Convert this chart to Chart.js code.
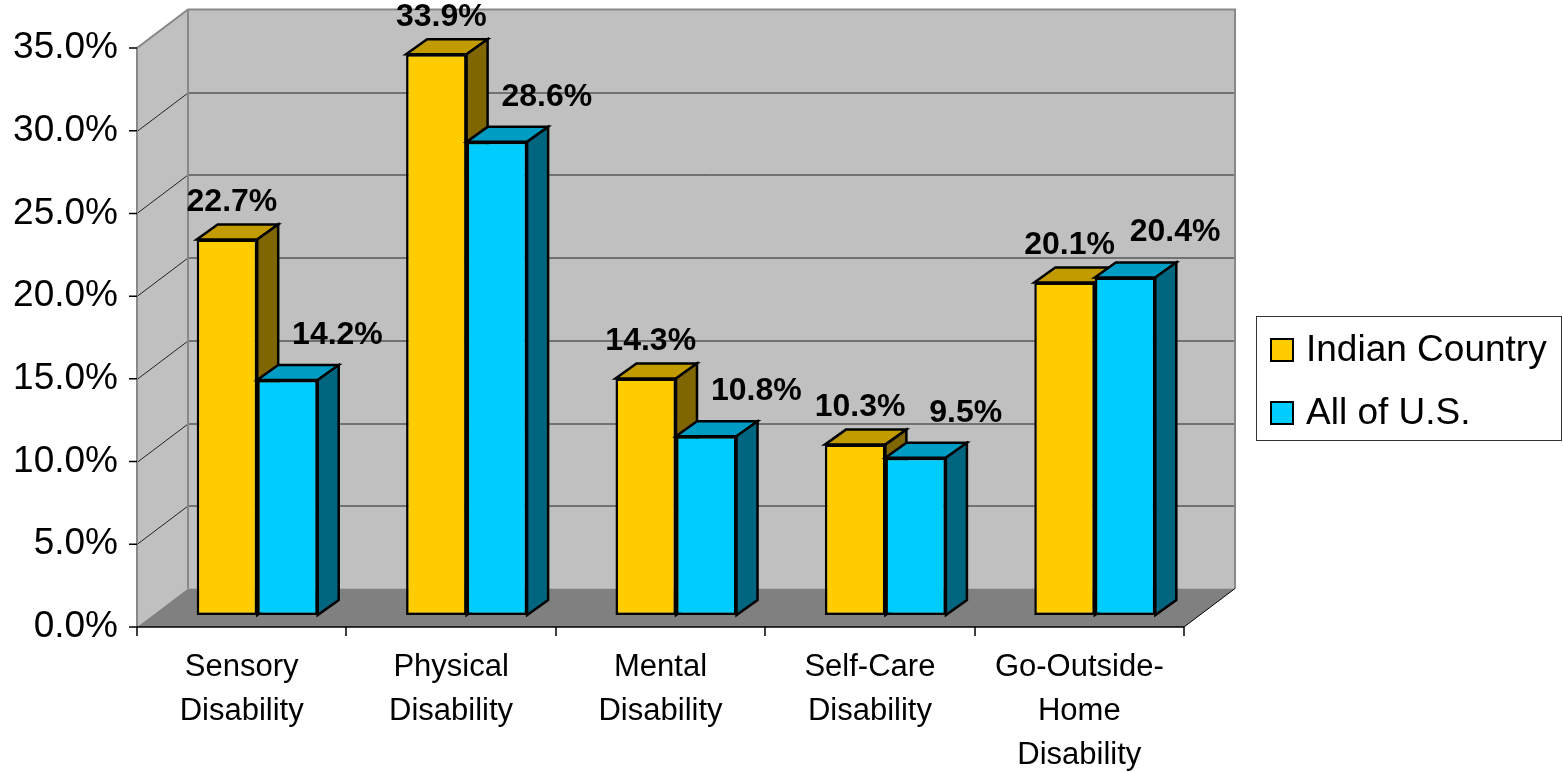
<!DOCTYPE html>
<html lang="en">
<head>
<meta charset="UTF-8">
<title>Disability Rates: Indian Country vs All of U.S.</title>
<script src="https://cdn.jsdelivr.net/npm/chart.js"></script>
<style>
    body { margin: 0; background: #fff; }
    #wrap { width: 1563px; height: 772px; }
</style>
</head>
<body>
<div id="wrap"><canvas id="disabilityChart" width="1563" height="772"></canvas></div>
<script>
    // ---- data ----
    const categories = [
        ['Sensory', 'Disability'],
        ['Physical', 'Disability'],
        ['Mental', 'Disability'],
        ['Self-Care', 'Disability'],
        ['Go-Outside-', 'Home', 'Disability']
    ];
    const seriesNames = ['Indian Country', 'All of U.S.'];
    const indianCountry = [22.7, 33.9, 14.3, 10.3, 20.1];
    const allOfUS = [14.2, 28.6, 10.8, 9.5, 20.4];
    const yTicks = [0, 5, 10, 15, 20, 25, 30, 35];

    // ---- look ----
    const FONT = '"Liberation Sans", Arial, sans-serif';
    const palette = [
        { front: '#FFCC00', top: '#C29B00', side: '#7F6600' },
        { front: '#00CCFF', top: '#009CC3', side: '#006680' }
    ];
    const wallDepth = { x: 51, y: -38.5 };  // front edge -> back wall
    const barShift = { x: 15.5, y: -12 };   // bars stand a bit behind the front edge
    const barDepth = { x: 21, y: -15 };
    const labelShift = [{ x: 5, y: -37 }, { x: 50, y: -45 }];

    function poly(ctx, pts) {
        ctx.beginPath();
        ctx.moveTo(pts[0][0], pts[0][1]);
        for (let i = 1; i < pts.length; i++) ctx.lineTo(pts[i][0], pts[i][1]);
        ctx.closePath();
    }

    const box3d = {
        id: 'box3d',
        beforeDatasetsDraw(chart) {
            const { ctx, chartArea: a, scales: { x, y } } = chart;
            const yTop = y.getPixelForValue(y.max);
            const y0 = y.getPixelForValue(0);
            const bx = wallDepth.x, by = wallDepth.y;

            ctx.save();
            // walls
            ctx.fillStyle = '#C0C0C0';
            poly(ctx, [[a.left, yTop], [a.left + bx, yTop + by], [a.left + bx, y0 + by], [a.left, y0]]);
            ctx.fill();
            ctx.fillRect(a.left + bx, yTop + by, a.right - a.left, y0 - yTop);
            // floor
            ctx.fillStyle = '#808080';
            poly(ctx, [[a.left, y0], [a.left + bx, y0 + by], [a.right + bx, y0 + by], [a.right, y0]]);
            ctx.fill();

            // gridlines
            ctx.strokeStyle = '#222';
            ctx.lineWidth = 1;
            yTicks.forEach(v => {
                if (v === 0 || v === y.max) return;
                const py = Math.round(y.getPixelForValue(v)) + 0.5;
                ctx.beginPath();
                ctx.moveTo(a.left, py);
                ctx.lineTo(a.left + bx, py + by);
                ctx.lineTo(a.right + bx, py + by);
                ctx.stroke();
            });

            // wall edges
            ctx.strokeStyle = '#888';
            ctx.lineWidth = 2;
            ctx.beginPath();
            ctx.moveTo(a.left, y0);
            ctx.lineTo(a.left, yTop);
            ctx.lineTo(a.left + bx, yTop + by);
            ctx.lineTo(a.right + bx, yTop + by);
            ctx.lineTo(a.right + bx, y0 + by);
            ctx.moveTo(a.left + bx, yTop + by);
            ctx.lineTo(a.left + bx, y0 + by);
            ctx.stroke();

            // floor right edge, x axis and ticks
            ctx.strokeStyle = '#000';
            ctx.lineWidth = 1;
            ctx.beginPath();
            ctx.moveTo(a.right + bx, y0 + by);
            ctx.lineTo(a.right, y0);
            ctx.stroke();
            ctx.lineWidth = 1.5;
            ctx.beginPath();
            ctx.moveTo(a.left, y0);
            ctx.lineTo(a.right, y0);
            const step = (a.right - a.left) / categories.length;
            for (let i = 0; i <= categories.length; i++) {
                const px = Math.round(x.getPixelForValue(0) - step / 2 + i * step);
                ctx.moveTo(px, y0);
                ctx.lineTo(px, y0 + 9);
            }
            yTicks.forEach(v => {
                const py = y.getPixelForValue(v);
                ctx.moveTo(a.left - 8, py);
                ctx.lineTo(a.left, py);
            });
            ctx.stroke();

            // bars: front from the library element, then top and side faces
            ctx.translate(barShift.x, barShift.y);
            chart.data.datasets.forEach((ds, di) => {
                const col = palette[di];
                chart.getDatasetMeta(di).data.forEach(bar => {
                    bar.draw(ctx, a);
                    const p = bar.getProps(['x', 'y', 'base', 'width'], true);
                    const l = p.x - p.width / 2, r = p.x + p.width / 2;
                    ctx.lineWidth = 2.5;
                    ctx.lineJoin = 'miter';
                    ctx.strokeStyle = '#000';
                    ctx.fillStyle = col.top;
                    poly(ctx, [[l, p.y], [l + barDepth.x, p.y + barDepth.y], [r + barDepth.x, p.y + barDepth.y], [r, p.y]]);
                    ctx.fill();
                    ctx.stroke();
                    ctx.fillStyle = col.side;
                    poly(ctx, [[r, p.y], [r + barDepth.x, p.y + barDepth.y], [r + barDepth.x, p.base + barDepth.y], [r, p.base]]);
                    ctx.fill();
                    ctx.stroke();
                });
            });
            ctx.restore();
            return false; // bars already drawn above, in depth order
        },
        afterDraw(chart) {
            const { ctx } = chart;
            ctx.save();
            // value labels
            ctx.fillStyle = '#000';
            ctx.font = 'bold 32px ' + FONT;
            ctx.textAlign = 'center';
            ctx.textBaseline = 'middle';
            chart.data.datasets.forEach((ds, di) => {
                chart.getDatasetMeta(di).data.forEach((bar, i) => {
                    const p = bar.getProps(['x', 'y'], true);
                    ctx.fillText(ds.data[i].toFixed(1) + '%',
                        p.x + barShift.x + labelShift[di].x,
                        p.y + barShift.y + labelShift[di].y);
                });
            });

            // legend
            const lx = 1256, ly = 316;
            ctx.fillStyle = '#fff';
            ctx.fillRect(lx, ly, 306, 125);
            ctx.strokeStyle = '#333';
            ctx.lineWidth = 1;
            ctx.strokeRect(lx + 0.5, ly + 0.5, 305, 124);
            ctx.font = '37px ' + FONT;
            ctx.textAlign = 'left';
            chart.data.datasets.forEach((ds, di) => {
                const cy = ly + 34 + di * 63;
                ctx.fillStyle = palette[di].front;
                ctx.fillRect(lx + 15, cy - 11, 22, 22);
                ctx.strokeStyle = '#000';
                ctx.lineWidth = 2;
                ctx.strokeRect(lx + 15, cy - 11, 22, 22);
                ctx.fillStyle = '#000';
                ctx.fillText(ds.label, lx + 50, cy + 1);
            });
            ctx.restore();
        }
    };

    const ctx = document.getElementById('disabilityChart').getContext('2d');

    const chart = new Chart(ctx, {
        type: 'bar',
        data: {
            labels: categories,
            datasets: [
                {
                    label: seriesNames[0],
                    data: indianCountry,
                    backgroundColor: palette[0].front,
                    borderColor: '#000',
                    borderWidth: 2.5,
                    borderSkipped: false
                },
                {
                    label: seriesNames[1],
                    data: allOfUS,
                    backgroundColor: palette[1].front,
                    borderColor: '#000',
                    borderWidth: 2.5,
                    borderSkipped: false
                }
            ]
        },
        options: {
            responsive: false,
            animation: false,
            events: [],
            categoryPercentage: 0.578,
            barPercentage: 1,
            layout: {
                padding: { left: 0, top: 48, right: 379, bottom: 0 }
            },
            plugins: {
                legend: { display: false },
                tooltip: { enabled: false }
            },
            scales: {
                x: {
                    grid: { display: false, drawTicks: false },
                    border: { display: false },
                    ticks: {
                        color: '#000',
                        padding: 18,
                        maxRotation: 0,
                        autoSkip: false,
                        font: { family: FONT, size: 31, lineHeight: 1.42 }
                    },
                    afterFit(scale) { scale.height = 145; }
                },
                y: {
                    min: 0,
                    max: 35,
                    grid: { display: false, drawTicks: false },
                    border: { display: false },
                    ticks: {
                        stepSize: 5,
                        color: '#000',
                        padding: 19,
                        font: { family: FONT, size: 37 },
                        callback: v => v.toFixed(1) + '%'
                    },
                    afterFit(scale) { scale.width = 137; }
                }
            }
        },
        plugins: [box3d]
    });
</script>
</body>
</html>
